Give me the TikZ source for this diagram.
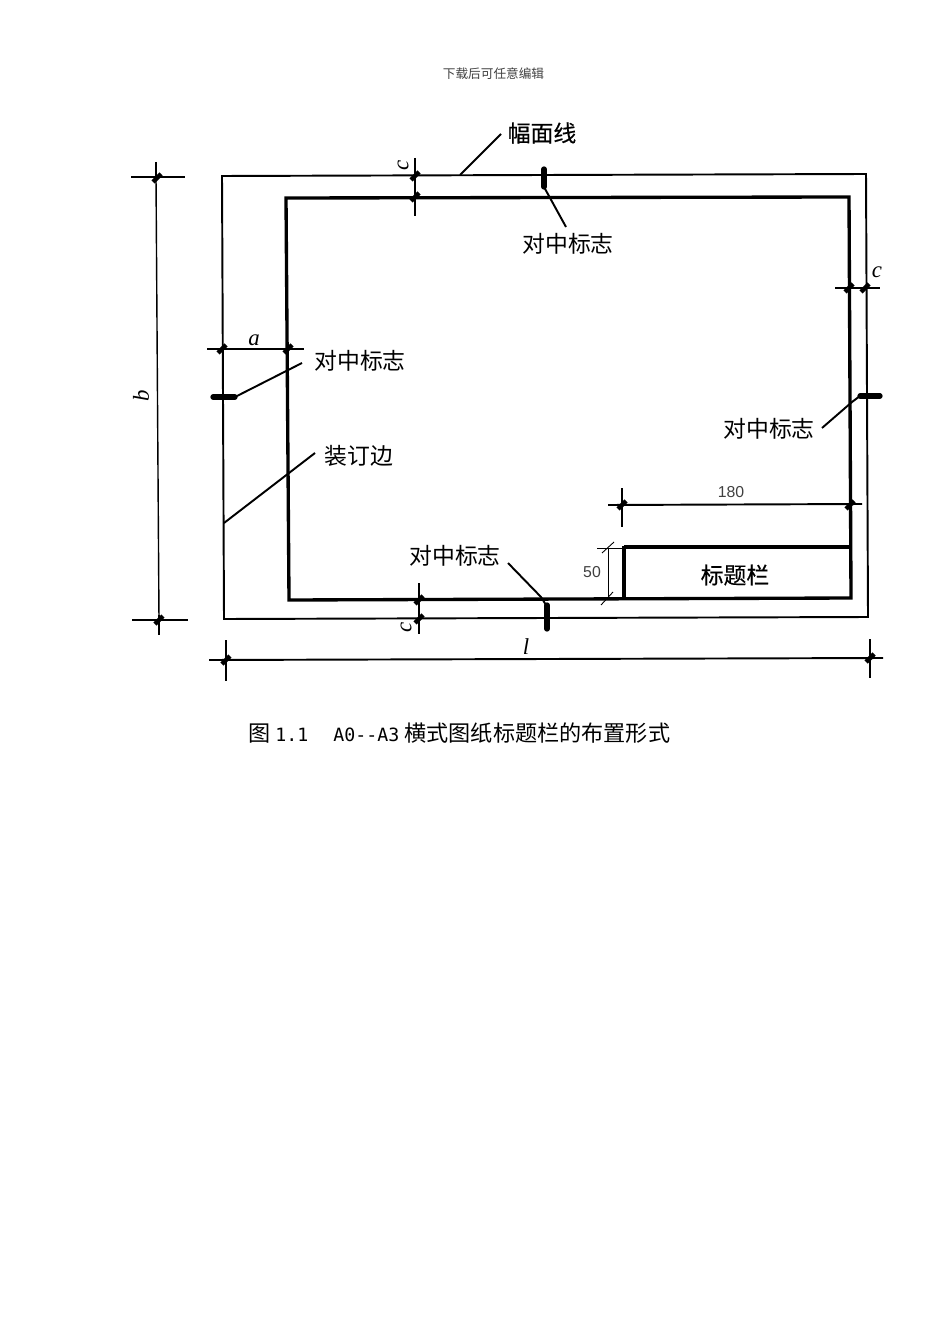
\documentclass[tikz,border=0pt]{standalone}
\usepackage{fontspec}
\setmainfont{Noto Sans CJK SC}
\newfontfamily\heavycjk[FakeBold=0.4]{Noto Sans CJK SC}
\newfontfamily\latinmono{DejaVu Sans Mono}
\newfontfamily\latinsans{Liberation Sans}
\newfontfamily\latinserif{Liberation Serif}
\usetikzlibrary{calc}
\tikzset{frame line/.style = {line width=1.1pt}}
\tikzset{bold line/.style = {line width=1.9pt}}
\tikzset{dim line/.style = {line width=0.8pt}}
\tikzset{thin dim/.style = {line width=0.5pt}}
\tikzset{mark line/.style = {line width=3pt, line cap=round}}
\tikzset{leader line/.style = {line width=1.1pt}}
\tikzset{label text/.style = {font=\fontsize{13}{13}\selectfont, inner sep=0pt}}
\tikzset{dim letter/.style = {inner sep=0pt, font=\latinserif\itshape\fontsize{13}{13}\selectfont}}
\tikzset{dim number/.style = {inner sep=0pt, font=\latinsans\fontsize{9}{9}\selectfont, text=black!75}}
\newcommand{\dimTick}[1]{\draw[line width=2.6pt] ($#1+(-4,4)$) -- ($#1+(4,-4)$);}

\begin{document}
\begin{tikzpicture}[x=0.02cm, y=-0.02cm]
	\useasboundingbox (0,0) rectangle (950,1344);

	\node[font=\fontsize{7.2}{7.2}\selectfont, inner sep=0pt, text=black!75] (header) at (493.5,74) {下载后可任意编辑};

	\draw[frame line]	(222,176) -- (866,174) -- (868,617) -- (224,619) -- cycle;
	\draw[bold line]	(286,198) -- (849,197) -- (851,598) -- (289,600) -- cycle;
	\draw[bold line]	(851,547) -- (624,547);
	\draw[line width=2.8pt]	(624,546) -- (624,599);
	\node[label text, font=\heavycjk\fontsize{13}{13}\selectfont] (titleblock) at (735,575) {标题栏};

	\draw[mark line]	(544,169) -- (544,187);
	\draw[mark line]	(213,397) -- (235,397);
	\draw[mark line]	(860,396) -- (880,396);
	\draw[mark line]	(547,605) -- (547,629);

	\node[label text, font=\heavycjk\fontsize{13}{13}\selectfont] (sheetline) at (542,133) {幅面线};
	\node[label text] (markT) at (568,244) {对中标志};
	\node[label text] (markL) at (360,361) {对中标志};
	\node[label text] (markR) at (769,429) {对中标志};
	\node[label text] (markB) at (455,556) {对中标志};
	\node[label text] (binding) at (359,456) {装订边};

	\draw[leader line]	(460,175) -- (501,134);
	\draw[leader line]	(544,187) -- (566,227);
	\draw[leader line]	(235,397) -- (302,363);
	\draw[leader line]	(822,428) -- (852,402) -- (860,396);
	\draw[leader line]	(508,563) -- (541,597) -- (546,605);
	\draw[leader line]	(224,523) -- (315,453);

	\draw[dim line]		(156,177) -- (159,620);
	\draw[frame line]	(131,177) -- (185,177);
	\draw[frame line]	(156,162) -- (156,180);
	\draw[frame line]	(132,620) -- (188,620);
	\draw[frame line]	(159,615) -- (159,635);
	\dimTick{(157,178)}
	\dimTick{(159,620)}
	\node[dim letter, rotate=90] (dimb) at (141,396) {b};

	\draw[frame line]	(209,660) -- (883,658);
	\draw[frame line]	(226,640) -- (226,681);
	\draw[frame line]	(870,639) -- (870,678);
	\dimTick{(226,660)}
	\dimTick{(870,658)}
	\node[dim letter] (diml) at (526,647) {l};

	\draw[frame line]	(415,158) -- (415,216);
	\dimTick{(415,176)}
	\dimTick{(415,197)}
	\node[dim letter, rotate=90] (dimcT) at (403,165) {c};

	\draw[frame line]	(419,583) -- (419,634);
	\dimTick{(419,600)}
	\dimTick{(419,619)}
	\node[dim letter, rotate=90] (dimcB) at (406,627) {c};

	\draw[dim line]		(207,349) -- (304,349);
	\dimTick{(222,349)}
	\dimTick{(288,349)}
	\node[dim letter] (dima) at (254,340) {a};

	\draw[dim line]		(835,288) -- (880,288);
	\dimTick{(849,288)}
	\dimTick{(865,288)}
	\node[dim letter] (dimcR) at (877,272) {c};

	\draw[frame line]	(608,505) -- (862,504);
	\draw[frame line]	(622,488) -- (622,527);
	\dimTick{(622,505)}
	\dimTick{(850,505)}
	\node[dim number] (dimW) at (731,492) {180};

	\draw[thin dim]		(597,548) -- (624,548);
	\draw[thin dim]		(597,599) -- (624,599);
	\draw[thin dim]		(608,548) -- (608,600);
	\draw[thin dim]		(602,553) -- (614,542);
	\draw[thin dim]		(601,605) -- (613,592);
	\node[dim number] (dimH) at (592,572) {50};

	\node[anchor=west, inner sep=0pt, font=\fontsize{12.6}{12.6}\selectfont] (caption) at (248,733) {图\hspace{0.1cm}{\latinmono\fontsize{10.4}{10.4}\selectfont 1.1}\hspace{0.5cm}{\latinmono\fontsize{10.4}{10.4}\selectfont A0--A3}\hspace{0.1cm}横式图纸标题栏的布置形式};
\end{tikzpicture}
\end{document}
